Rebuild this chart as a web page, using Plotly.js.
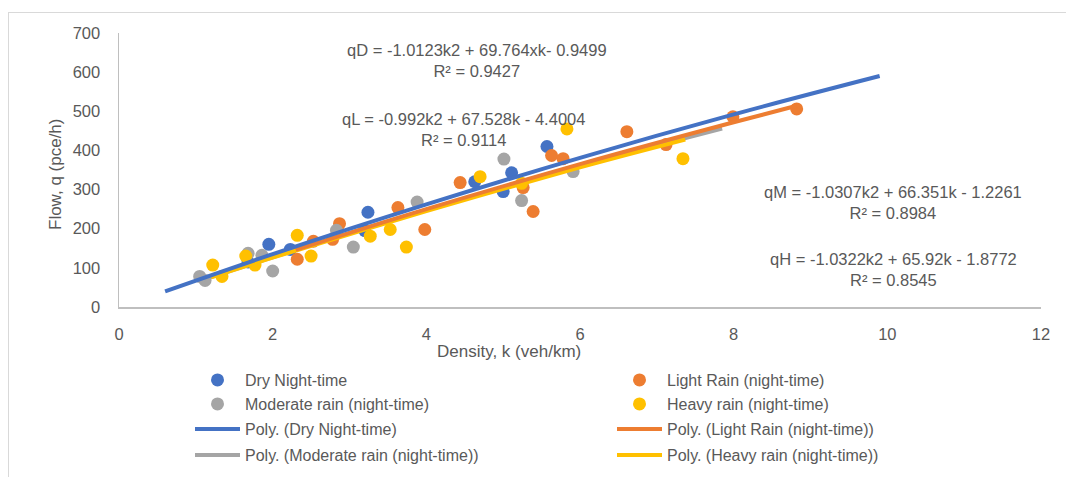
<!DOCTYPE html>
<html>
<head>
<meta charset="utf-8">
<script src="https://cdn.plot.ly/plotly-3.0.1.min.js"></script>
<style>
html,body{margin:0;padding:0;background:#fff;overflow:hidden;}
#wrap{position:relative;width:1066px;height:477px;overflow:hidden;}
#chart{width:1066px;height:477px;}
#frame{position:absolute;left:8px;top:12px;width:1200px;height:600px;border-left:1px solid #D9D9D9;border-top:1px solid #D9D9D9;pointer-events:none;}
</style>
</head>
<body>
<div id="wrap"><div id="chart"></div><div id="frame"></div></div>
<script>
// ---- Data ----
const dryK = [1.68, 1.95, 2.23, 3.20, 3.24, 4.63, 5.00, 5.11, 5.57];
const dryQ = [115, 160, 147, 195, 242, 320, 295, 343, 410];

const lightK = [2.32, 2.53, 2.78, 2.87, 3.63, 3.98, 4.44, 5.26, 5.39, 5.63, 5.78, 6.61, 7.12, 7.99, 8.82];
const lightQ = [122, 168, 173, 213, 254, 198, 318, 305, 244, 387, 379, 448, 415, 486, 506];

const modK = [1.05, 1.12, 1.68, 1.86, 2.00, 2.83, 3.05, 3.88, 5.01, 5.24, 5.91];
const modQ = [78, 68, 137, 132, 92, 196, 153, 268, 378, 272, 346];

const heavyK = [1.22, 1.34, 1.65, 1.77, 2.32, 2.50, 3.27, 3.53, 3.74, 4.70, 5.24, 5.83, 7.34];
const heavyQ = [107, 78, 130, 107, 183, 130, 181, 198, 153, 333, 316, 455, 379];

// trend lines
const dryFitK = [0.6, 2, 4, 6, 8, 9.9];
const dryFitQ = [40, 135, 262, 381, 492, 590];
const lightFitK = [2.3, 4, 6, 8, 8.82];
const lightFitQ = [146, 250, 365, 472, 514];
const modFitK = [1.05, 2, 4, 6, 7.85];
const modFitQ = [67, 127, 248, 360, 456];
const heavyFitK = [1.2, 2, 4, 6, 7.37];
const heavyFitQ = [76, 126, 245, 357, 428];

const names = ["Dry Night-time", "Light Rain (night-time)", "Moderate rain (night-time)", "Heavy rain (night-time)"];
const colors = ["#4472C4", "#ED7D31", "#A5A5A5", "#FFC000"];

const xTicks = [0, 2, 4, 6, 8, 10, 12];
const yTicks = [0, 100, 200, 300, 400, 500, 600, 700];

const eqTexts = [
  "qD = -1.0123k2 + 69.764xk- 0.9499<br>R² = 0.9427",
  "qL = -0.992k2 + 67.528k - 4.4004<br>R² = 0.9114",
  "qM = -1.0307k2 + 66.351k - 1.2261<br>R² = 0.8984",
  "qH = -1.0322k2 + 65.92k - 1.8772<br>R² = 0.8545"
];

// ---- Layout helpers (pixel -> paper) ----
const W = 1066, H = 477, L = 119, R = 25, T = 33, B = 170;
const PW = W - L - R, PH = H - T - B;
const px = v => (v - L) / PW;
const py = v => (H - B - v) / PH;

const FONT = "Liberation Sans, Arial, sans-serif";
const GREY = "#595959";

function scatter(k, q, i, legend, rank) {
  return {x: k, y: q, type: "scatter", mode: "markers", name: names[i],
    marker: {color: colors[i], size: 13, line: {width: 0}},
    legend: legend, legendrank: rank, hoverinfo: "x+y"};
}
function fit(k, q, i, legend, rank) {
  return {x: k, y: q, type: "scatter", mode: "lines", name: "Poly. (" + names[i] + ")",
    line: {color: colors[i], width: 4, shape: "spline"},
    legend: legend, legendrank: rank, hoverinfo: "x+y"};
}

// one horizontal legend per row, two entries each
const traces = [
  scatter(dryK, dryQ, 0, "legend", 1),
  scatter(lightK, lightQ, 1, "legend", 2),
  scatter(modK, modQ, 2, "legend2", 1),
  scatter(heavyK, heavyQ, 3, "legend2", 2),
  fit(modFitK, modFitQ, 2, "legend4", 1),
  fit(heavyFitK, heavyFitQ, 3, "legend4", 2),
  fit(lightFitK, lightFitQ, 1, "legend3", 2),
  fit(dryFitK, dryFitQ, 0, "legend3", 1)
];

const rowY = [380, 404, 429, 455];
function legendRow(yc) {
  return {
    orientation: "h", xanchor: "left", yanchor: "middle", x: px(190), y: py(yc),
    font: {family: FONT, size: 16, color: GREY},
    bgcolor: "rgba(0,0,0,0)", borderwidth: 0, itemwidth: 45,
    entrywidth: 362, entrywidthmode: "pixels",
    traceorder: "normal", tracegroupgap: 0
  };
}

const annFont = {family: FONT, size: 16.5, color: GREY};
function ann(text, x, y, extra) {
  return Object.assign({text: text, xref: "paper", yref: "paper", x: px(x), y: py(y),
    xanchor: "center", yanchor: "middle", showarrow: false, align: "center", font: annFont}, extra || {});
}

const layout = {
  width: W, height: H,
  margin: {l: L, r: R, t: T, b: B, pad: 0, autoexpand: false},
  paper_bgcolor: "#ffffff", plot_bgcolor: "#ffffff",
  font: {family: FONT, size: 16, color: GREY},
  showlegend: true,
  legend: legendRow(rowY[0]),
  legend2: legendRow(rowY[1]),
  legend3: legendRow(rowY[2]),
  legend4: legendRow(rowY[3]),
  xaxis: {
    range: [0, 12], tickvals: xTicks, ticktext: xTicks.map(String),
    showgrid: false, zeroline: false, showline: true, linecolor: "#BFBFBF", linewidth: 1.5,
    ticks: "", tickfont: {family: FONT, size: 16.5, color: GREY}, ticklabelstandoff: 12,
    fixedrange: true, automargin: false
  },
  yaxis: {
    range: [0, 700], tickvals: yTicks, ticktext: yTicks.map(String),
    showgrid: false, zeroline: false, showline: true, linecolor: "#BFBFBF", linewidth: 1.5,
    ticks: "", tickfont: {family: FONT, size: 16.5, color: GREY}, ticklabelstandoff: 14,
    fixedrange: true, automargin: false
  },
  annotations: [
    ann(eqTexts[0], 477, 60),
    ann(eqTexts[1], 463, 129),
    ann(eqTexts[2], 893, 202),
    ann(eqTexts[3], 893, 269),
    ann("Density, k (veh/km)", 509, 351, {font: {family: FONT, size: 17, color: GREY}}),
    ann("Flow, q (pce/h)", 55, 174, {textangle: -90, font: {family: FONT, size: 17, color: GREY}})
  ]
};

Plotly.newPlot("chart", traces, layout, {staticPlot: true, displayModeBar: false});
</script>
</body>
</html>
